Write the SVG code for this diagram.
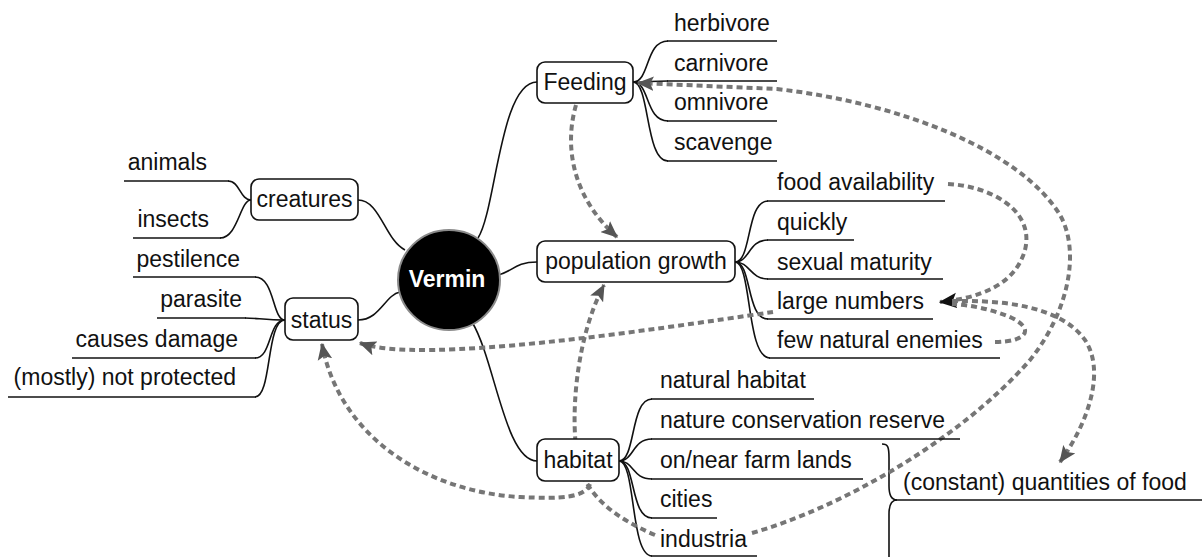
<svg xmlns="http://www.w3.org/2000/svg" width="1202" height="557" viewBox="0 0 1202 557">
  <style>
    .t { font-family: "Liberation Sans", Arial, sans-serif; font-size: 23px; fill: #111; }
    .end { text-anchor: end; }
    .mid { text-anchor: middle; }
    .box { fill: #fff; stroke: #111; stroke-width: 1.6; }
    .br { fill: none; stroke: #111; stroke-width: 1.6; }
    .ul { stroke: #111; stroke-width: 1.6; }
    .rel { fill: none; stroke: #767676; stroke-width: 4; stroke-dasharray: 6 4; }
  </style>
  <defs>
    <marker id="arr" viewBox="0 0 14 12" markerWidth="17" markerHeight="15" refX="13" refY="6" orient="auto" markerUnits="userSpaceOnUse">
      <path d="M0,0 L14,6 L0,12 L3,6 Z" fill="#555"/>
    </marker>
    <marker id="arrDark" viewBox="0 0 14 12" markerWidth="18" markerHeight="16" refX="13" refY="6" orient="auto" markerUnits="userSpaceOnUse">
      <path d="M0,0 L14,6 L0,12 L3,6 Z" fill="#111"/>
    </marker>
  </defs>

  <g id="connectors">
    <!-- central topic to main topics -->
    <path class="br" d="M478 238 C496 210 500 82 537 82"/>
    <path class="br" d="M498 275 C512 272 515 262 537 262"/>
    <path class="br" d="M472 322 C495 360 505 461 537 461"/>
    <path class="br" d="M405 250 C385 240 380 200 358 200"/>
    <path class="br" d="M400 292 C385 295 380 320 358 320"/>

    <!-- Feeding branches -->
    <path class="br" d="M633 82 C650 82 645 41 668 41"/>
    <path class="br" d="M633 82 L668 81"/>
    <path class="br" d="M633 82 C650 82 645 121 668 121"/>
    <path class="br" d="M633 82 C650 82 645 161 668 161"/>

    <!-- population growth branches -->
    <path class="br" d="M735 262 C752 262 746 201 768 201"/>
    <path class="br" d="M735 262 C750 262 748 240 768 240"/>
    <path class="br" d="M735 262 C750 262 750 279 768 279"/>
    <path class="br" d="M735 262 C752 262 746 319 768 319"/>
    <path class="br" d="M735 262 C752 262 746 358 770 358"/>

    <!-- habitat branches -->
    <path class="br" d="M619 461 C636 461 630 399 652 399"/>
    <path class="br" d="M619 461 C634 461 632 439 652 439"/>
    <path class="br" d="M619 461 C634 461 632 479 652 479"/>
    <path class="br" d="M619 461 C636 461 630 518 652 518"/>
    <path class="br" d="M619 461 C636 461 630 556 652 556"/>

    <!-- creatures branches -->
    <path class="br" d="M251 200 C240 200 240 181 228 181"/>
    <path class="br" d="M251 200 C240 200 238 238 220 238"/>

    <!-- status branches -->
    <path class="br" d="M285 320 C272 320 275 277 255 277"/>
    <path class="br" d="M285 320 C266 320 256 318 245 318"/>
    <path class="br" d="M285 320 C268 320 272 358 255 358"/>
    <path class="br" d="M285 320 C266 320 272 397 255 397"/>

    <!-- summary brace -->
    <path class="br" d="M882 444 C888 444 889 447 889 458 L889 486 C889 495 891 500 897 500 C891 500 889 505 889 514 L889 560"/>

    <!-- relationships -->
    <path class="rel" d="M576 105 C563 150 575 200 617 237" marker-end="url(#arr)"/>
    <path class="rel" d="M752 533 C840 508 960 440 1030 360 C1070 310 1080 250 1060 215 C1020 150 900 103 777 89 L638 83" marker-end="url(#arr)"/>
    <path class="rel" d="M948 184 C990 186 1035 210 1025 250 C1015 285 980 298 940 302" marker-end="url(#arrDark)"/>
    <path class="rel" d="M952 301 C1000 300 1060 305 1085 340 C1105 370 1090 420 1060 462" marker-end="url(#arr)"/>
    <path class="rel" d="M995 342 C1025 342 1036 330 1012 318 C992 309 970 305 952 304 M773 312 C650 330 420 365 360 343" marker-end="url(#arr)"/>
    <path class="rel" d="M655 535 C615 518 585 495 578 460 C570 420 575 340 604 285" marker-end="url(#arr)"/>
    <path class="rel" d="M590 484 C585 498 560 499 520 497 C430 492 340 440 322 344" marker-end="url(#arr)"/>
  </g>

  <g id="vermin">
    <ellipse cx="449" cy="280" rx="51" ry="50" fill="#000" stroke="#8a8a8a" stroke-width="2"/>
    <text class="t mid" x="447" y="287" style="fill:#fff;font-weight:bold">Vermin</text>
  </g>

  <g id="feeding">
    <rect class="box" x="537" y="62" width="96" height="41" rx="8"/>
    <text class="t mid" x="585" y="90">Feeding</text>
  </g>
  <g id="population-growth">
    <rect class="box" x="537" y="241" width="198" height="41" rx="8"/>
    <text class="t mid" x="636" y="269">population growth</text>
  </g>
  <g id="habitat">
    <rect class="box" x="537" y="439" width="82" height="42" rx="8"/>
    <text class="t mid" x="578" y="468">habitat</text>
  </g>
  <g id="creatures">
    <rect class="box" x="251" y="179" width="107" height="41" rx="8"/>
    <text class="t mid" x="304.5" y="207">creatures</text>
  </g>
  <g id="status">
    <rect class="box" x="285" y="298" width="73" height="42" rx="8"/>
    <text class="t mid" x="321.5" y="328">status</text>
  </g>

  <!-- Feeding subtopics -->
  <g id="herbivore"><text class="t" x="674" y="31">herbivore</text><line class="ul" x1="667" y1="41" x2="777" y2="41"/></g>
  <g id="carnivore"><text class="t" x="674" y="71">carnivore</text><line class="ul" x1="667" y1="81" x2="777" y2="81"/></g>
  <g id="omnivore"><text class="t" x="674" y="110">omnivore</text><line class="ul" x1="667" y1="121" x2="777" y2="121"/></g>
  <g id="scavenge"><text class="t" x="674" y="150">scavenge</text><line class="ul" x1="667" y1="161" x2="777" y2="161"/></g>

  <!-- population growth subtopics -->
  <g id="food-availability"><text class="t" x="777" y="190">food availability</text><line class="ul" x1="767" y1="201" x2="945" y2="201"/></g>
  <g id="quickly"><text class="t" x="777" y="230">quickly</text><line class="ul" x1="767" y1="240" x2="854" y2="240"/></g>
  <g id="sexual-maturity"><text class="t" x="777" y="270">sexual maturity</text><line class="ul" x1="767" y1="279" x2="943" y2="279"/></g>
  <g id="large-numbers"><text class="t" x="777" y="309">large numbers</text><line class="ul" x1="767" y1="319" x2="933" y2="319"/></g>
  <g id="few-natural-enemies"><text class="t" x="777" y="348">few natural enemies</text><line class="ul" x1="769" y1="358" x2="1000" y2="358"/></g>

  <!-- habitat subtopics -->
  <g id="natural-habitat"><text class="t" x="660" y="388">natural habitat</text><line class="ul" x1="651" y1="399" x2="814" y2="399"/></g>
  <g id="nature-conservation-reserve"><text class="t" x="660" y="428">nature conservation reserve</text><line class="ul" x1="651" y1="439" x2="960" y2="439"/></g>
  <g id="farm-lands"><text class="t" x="660" y="468">on/near farm lands</text><line class="ul" x1="651" y1="479" x2="863" y2="479"/></g>
  <g id="cities"><text class="t" x="660" y="507">cities</text><line class="ul" x1="651" y1="518" x2="717" y2="518"/></g>
  <g id="industria"><text class="t" x="660" y="547">industria</text><line class="ul" x1="651" y1="556" x2="757" y2="556"/></g>

  <!-- summary -->
  <g id="quantities-of-food"><text class="t" x="903" y="490">(constant) quantities of food</text><line class="ul" x1="896" y1="500" x2="1202" y2="500"/></g>

  <!-- creatures subtopics -->
  <g id="animals"><text class="t end" x="207" y="170">animals</text><line class="ul" x1="124" y1="181" x2="229" y2="181"/></g>
  <g id="insects"><text class="t end" x="209" y="227">insects</text><line class="ul" x1="133" y1="238" x2="221" y2="238"/></g>

  <!-- status subtopics -->
  <g id="pestilence"><text class="t end" x="240" y="267">pestilence</text><line class="ul" x1="133" y1="277" x2="256" y2="277"/></g>
  <g id="parasite"><text class="t end" x="242" y="307">parasite</text><line class="ul" x1="157" y1="318" x2="246" y2="318"/></g>
  <g id="causes-damage"><text class="t end" x="238" y="347">causes damage</text><line class="ul" x1="72" y1="358" x2="256" y2="358"/></g>
  <g id="not-protected"><text class="t end" x="236" y="385">(mostly) not protected</text><line class="ul" x1="8" y1="397" x2="256" y2="397"/></g>
</svg>
